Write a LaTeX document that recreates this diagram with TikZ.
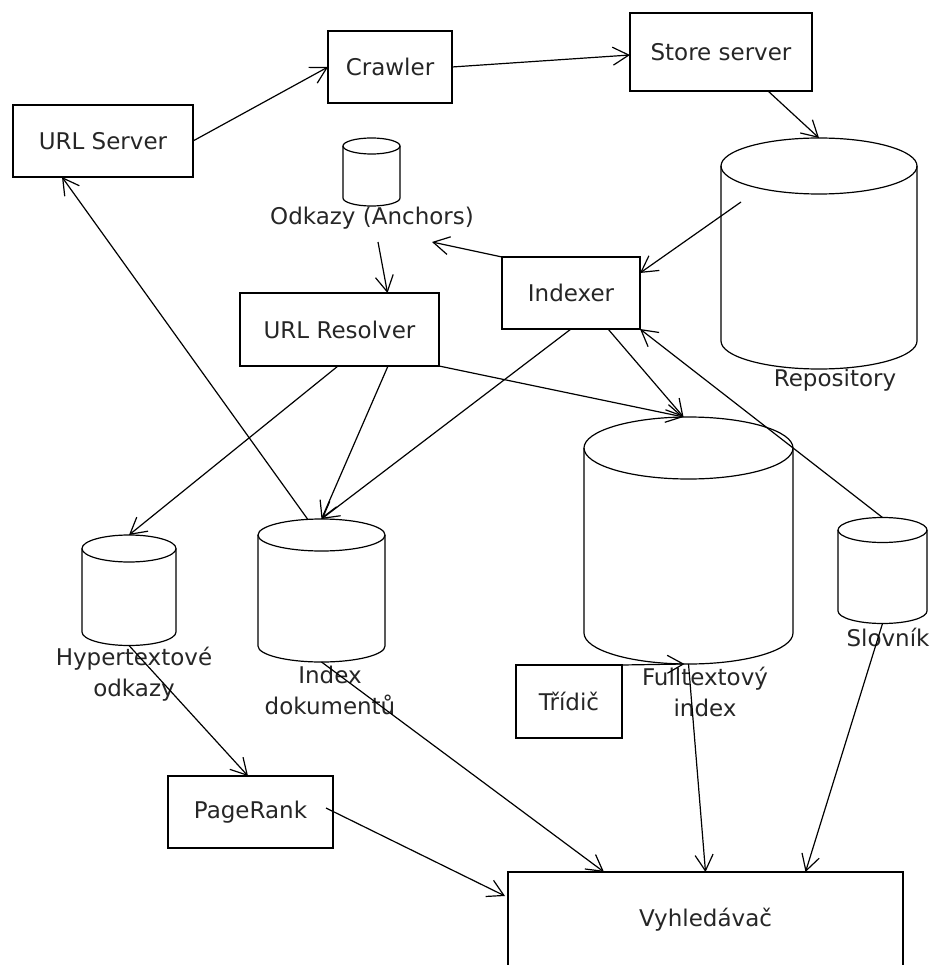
\documentclass[tikz,border=0pt]{standalone}
\usepackage{fontspec}
\setmainfont{DejaVu Sans}
\usetikzlibrary{arrows.meta,calc}

% database drum: name, centre x, top ellipse y, body bottom y, x radius, y radius
\newcommand\drum[6]{%
  \node[inner sep=0pt, outer sep=0pt, minimum width={2*#5pt},
        minimum height={#4-#3+2*#6pt}] (#1) at (#2,{(#3+#4)/2}) {};
  \draw ({#2-#5},#3) -- ({#2-#5},#4)
    .. controls ({#2-#5},{#4+0.5523*#6}) and ({#2-0.5523*#5},{#4+#6}) .. (#2,{#4+#6})
    .. controls ({#2+0.5523*#5},{#4+#6}) and ({#2+#5},{#4+0.5523*#6}) .. ({#2+#5},#4)
    -- ({#2+#5},#3);
  \draw (#2,#3) ellipse [x radius=#5, y radius=#6];
}

\begin{document}
\begin{tikzpicture}[x=1pt, y=-1pt, line width=1.2pt,
  txt/.style={font=\fontsize{23}{31}\selectfont, text=black!85},
  box/.style={txt, draw, rectangle, inner sep=0pt, outer sep=0pt},
  lbl/.style={txt, align=center, inner sep=0pt, outer sep=0pt},
  flow/.style={-{Straight Barb[length=16pt, width=18pt]}}]

\useasboundingbox (0,0) rectangle (934,965);

% processing units
\node[box, minimum width=180pt, minimum height=72pt] (us) at (103,141) {URL Server};
\node[box, minimum width=124pt, minimum height=72pt] (cr) at (390,67) {Crawler};
\node[box, minimum width=182pt, minimum height=78pt] (ss) at (721,52) {Store server};
\node[box, minimum width=138pt, minimum height=72pt] (idx) at (571,293) {Indexer};
\node[box, minimum width=199pt, minimum height=73pt] (ur) at (339.5,329.5) {URL Resolver};
\node[box, minimum width=106pt, minimum height=73pt] (tri) at (569,701.5) {Třídič};
\node[box, minimum width=165pt, minimum height=72pt] (pr) at (250.5,812) {PageRank};
\node[box, minimum width=395pt, minimum height=96pt] (vy) at (705.5,920) {Vyhledávač};

% data stores
\drum{od}{371.5}{146}{198}{28.5}{8}
\drum{repo}{819}{166}{341}{98}{28}
\drum{ft}{688.5}{448}{633}{104.5}{31}
\drum{idoc}{321.5}{535}{646}{63.5}{16}
\drum{hyp}{129}{548.5}{632}{47}{13.5}
\drum{slov}{882.5}{530}{611}{44.5}{12.5}

% store captions
\node[lbl] (odlab) at (372,218) {Odkazy (Anchors)};
\node[lbl] (repolab) at (835,380) {Repository};
\node[lbl] (hyplab) at (134,674) {Hypertextové\\odkazy};
\node[lbl] (idoclab) at (330,690) {Index\\dokumentů};
\node[lbl] (ftlab) at (705,692) {Fulltextový\\index};
\node[lbl] (slovlab) at (888,637) {Slovník};

% data flow
\draw[flow] (us.east) -- (cr.west);
\draw[flow] (cr.east) -- ($(ss.west)+(0,3)$);
\draw[flow] ($(ss.south)+(47,0)$) -- (repo.north);
\draw[flow] ($(repo.north)+(-78,64)$) -- ($(idx.east)+(0,-20)$);
\draw[flow] (idx.north west) -- ($(odlab.center)+(60,24)$);
\draw[flow] ($(odlab.center)+(6,24)$) -- ($(ur.north)+(48,0)$);
\draw[flow] ($(idoc.north)+(-14,0)$) -- ($(us.south west)+(49,0)$);
\draw[flow] ($(ur.south west)+(98,0)$) -- (hyp.north);
\draw[flow] ($(ur.south west)+(148,0)$) -- (idoc.north);
\draw[flow] (ur.south east) -- ($(ft.north)+(-5,0)$);
\draw[flow] (idx.south) -- (idoc.north);
\draw[flow] ($(idx.south)+(37,0)$) -- ($(ft.north)+(-5,0)$);
\draw[flow] (slov.north) -- (idx.south east);
\draw[flow] (tri.north east) -- ($(ft.south)+(-4,0)$);
\draw[flow] (ft.south) -- (vy.north);
\draw[flow] (slov.south) -- ($(vy.north)+(100,0)$);
\draw[flow] (idoc.south) -- ($(vy.north west)+(96,0)$);
\draw[flow] (hyp.south) -- ($(pr.north west)+(80,0)$);
\draw[flow] ($(pr.east)+(-7,-4)$) -- ($(vy.north west)+(-3,24)$);

\end{tikzpicture}
\end{document}
